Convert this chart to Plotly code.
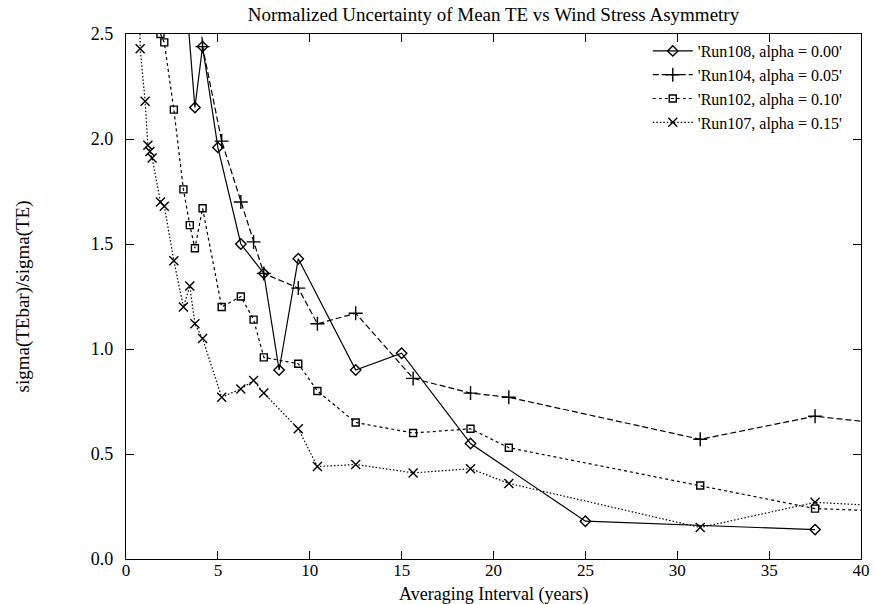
import plotly.graph_objects as go

# ---- data ----
run108_x = [3.125, 3.75, 4.167, 5.0, 6.25, 7.5, 8.333, 9.375, 12.5, 15.0, 18.75, 25.0, 37.5]
run108_y = [2.83, 2.15, 2.44, 1.96, 1.50, 1.36, 0.90, 1.43, 0.90, 0.98, 0.55, 0.18, 0.14]

run104_x = [3.75, 4.167, 5.208, 6.25, 6.944, 7.5, 9.375, 10.417, 12.5, 15.625, 18.75, 20.833, 31.25, 37.5, 43.75]
run104_y = [3.0, 2.44, 1.99, 1.70, 1.51, 1.36, 1.29, 1.12, 1.17, 0.86, 0.79, 0.77, 0.57, 0.68, 0.62]

run102_x = [1.875, 2.083, 2.604, 3.125, 3.472, 3.75, 4.167, 5.208, 6.25, 6.944, 7.5, 9.375, 10.417,
            12.5, 15.625, 18.75, 20.833, 31.25, 37.5, 43.75]
run102_y = [2.50, 2.46, 2.14, 1.76, 1.59, 1.48, 1.67, 1.20, 1.25, 1.14, 0.96, 0.93, 0.80,
            0.65, 0.60, 0.62, 0.53, 0.35, 0.24, 0.22]

run107_x = [0.70, 0.77, 1.04, 1.19, 1.30, 1.42, 1.875, 2.083, 2.604, 3.125, 3.472, 3.75, 4.167, 5.208,
            6.25, 6.944, 7.5, 9.375, 10.417, 12.5, 15.625, 18.75, 20.833, 31.25, 37.5, 43.75]
run107_y = [3.2, 2.43, 2.18, 1.97, 1.94, 1.91, 1.70, 1.68, 1.42, 1.20, 1.30, 1.12, 1.05, 0.77,
            0.81, 0.85, 0.79, 0.62, 0.44, 0.45, 0.41, 0.43, 0.36, 0.15, 0.27, 0.24]

names = ["'Run108, alpha = 0.00'", "'Run104, alpha = 0.05'",
         "'Run102, alpha = 0.10'", "'Run107, alpha = 0.15'"]

x_ticks = [0, 5, 10, 15, 20, 25, 30, 35, 40]
y_ticks = [0.0, 0.5, 1.0, 1.5, 2.0, 2.5]

x_title = "Averaging Interval (years)"
y_title = "sigma(TEbar)/sigma(TE)"
main_title = "Normalized Uncertainty of Mean TE vs Wind Stress Asymmetry"

FONT = "Liberation Serif, Times New Roman, serif"

series = [
    (run108_x, run108_y, names[0], "solid", "diamond-open", 8),
    (run104_x, run104_y, names[1], "6px,3px", "cross-thin-open", 10),
    (run102_x, run102_y, names[2], "3px,3px", "square-open", 7),
    (run107_x, run107_y, names[3], "1.5px,2px", "x-thin-open", 9),
]

fig = go.Figure()
for xs, ys, nm, dash, sym, sz in series:
    fig.add_trace(go.Scatter(
        x=xs, y=ys, name=nm, mode="lines+markers",
        line=dict(color="black", width=1.2, dash=dash),
        marker=dict(symbol=sym, size=sz, color="black",
                    line=dict(color="black", width=1.4)),
        cliponaxis=True,
    ))

axis_common = dict(
    showgrid=False, zeroline=False, showline=True, linecolor="black", linewidth=1.2,
    mirror="ticks", ticks="inside", ticklen=8, tickcolor="black", tickwidth=1,
    automargin=False,
)

fig.update_xaxes(range=[0, 40], tickvals=x_ticks, ticktext=[str(v) for v in x_ticks],
                 tickfont=dict(family=FONT, size=17, color="black"),
                 ticklabelstandoff=-5,
                 **axis_common)
fig.update_yaxes(range=[0, 2.5], tickvals=y_ticks, ticktext=[f"{v:.1f}" for v in y_ticks],
                 tickfont=dict(family=FONT, size=18, color="black"),
                 title=dict(text=y_title,
                            font=dict(family=FONT, size=19, color="black"), standoff=56),
                 ticklabelstandoff=8,
                 **axis_common)

fig.add_annotation(text=x_title, xref="paper", yref="paper",
                   x=0.5, y=-(594 - 559) / 525, xanchor="center", yanchor="middle",
                   showarrow=False, font=dict(family=FONT, size=18, color="black"))

fig.update_layout(
    width=874, height=604,
    margin=dict(l=126, r=13, t=34, b=45, autoexpand=False),
    paper_bgcolor="white", plot_bgcolor="white",
    title=dict(text=main_title,
               font=dict(family=FONT, size=19, color="black"),
               x=0.5, xref="paper", y=1 - 14 / 604, yref="container",
               xanchor="center", yanchor="middle"),
    legend=dict(x=0.982, y=1.0, xanchor="right", yanchor="top",
                bgcolor="rgba(0,0,0,0)", borderwidth=0,
                font=dict(family=FONT, size=16, color="black"),
                itemwidth=40),
    showlegend=True,
)

fig.write_html("out.html")
